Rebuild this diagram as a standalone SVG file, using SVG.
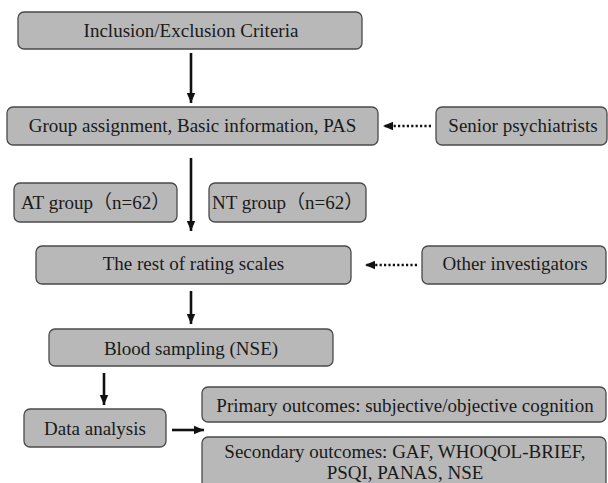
<svg xmlns="http://www.w3.org/2000/svg" width="608" height="483" viewBox="0 0 608 483">
<defs>
<marker id="ah" markerUnits="userSpaceOnUse" markerWidth="10" markerHeight="10" viewBox="0 0 10 10" refX="10" refY="5" orient="auto">
<path d="M0,0.8 L10,5 L0,9.2 Z" fill="#111"/>
</marker>
<style>
.box{fill:#b8b8b8;stroke:#4a4a4a;stroke-width:1.3}
.t{font-family:"Liberation Serif","Times New Roman","Noto Sans CJK SC",serif;font-size:19px;fill:#1a1a1a}
.m{text-anchor:middle}
.s{stroke:#111;stroke-width:2.6;fill:none}
.d{stroke:#111;stroke-width:2.6;fill:none;stroke-dasharray:2.2 2.2}
</style>
</defs>
<rect width="608" height="483" fill="#fff"/>
<g id="connectors">
<line class="s" x1="191" y1="53" x2="191" y2="103" marker-end="url(#ah)"/>
<line class="s" x1="191" y1="158" x2="191" y2="231" marker-end="url(#ah)"/>
<line class="s" x1="191" y1="291" x2="191" y2="324" marker-end="url(#ah)"/>
<line class="s" x1="104" y1="373" x2="104" y2="405" marker-end="url(#ah)"/>
<line class="s" x1="172" y1="430" x2="204" y2="430" marker-end="url(#ah)"/>
<line class="d" x1="431" y1="126" x2="383" y2="126" marker-end="url(#ah)"/>
<line class="d" x1="417" y1="265" x2="365" y2="265" marker-end="url(#ah)"/>
</g>
<g id="n1"><rect class="box" x="18" y="12" width="344" height="37" rx="6"/><text class="t m" x="191" y="37">Inclusion/Exclusion Criteria</text></g>
<g id="n2"><rect class="box" x="7" y="107" width="371" height="38" rx="6"/><text class="t m" x="192.5" y="132">Group assignment, Basic information, PAS</text></g>
<g id="n3"><rect class="box" x="436" y="107" width="171" height="38" rx="6"/><text class="t m" x="523" y="132">Senior psychiatrists</text></g>
<g id="n4"><rect class="box" x="14" y="183" width="163" height="39" rx="6"/><text class="t" x="21" y="209">AT group（n=62）</text></g>
<g id="n5"><rect class="box" x="209" y="183" width="157" height="39" rx="6"/><text class="t" x="212" y="209">NT group（n=62）</text></g>
<g id="n6"><rect class="box" x="36" y="246" width="315" height="38" rx="6"/><text class="t m" x="193.5" y="270">The rest of rating scales</text></g>
<g id="n7"><rect class="box" x="422" y="246" width="184" height="38" rx="6"/><text class="t m" x="515" y="270">Other investigators</text></g>
<g id="n8"><rect class="box" x="49" y="329" width="284" height="37" rx="6"/><text class="t m" x="191" y="355">Blood sampling (NSE)</text></g>
<g id="n9"><rect class="box" x="24" y="409" width="142" height="38" rx="6"/><text class="t m" x="95" y="435">Data analysis</text></g>
<g id="n10"><rect class="box" x="202" y="387" width="404" height="35" rx="6"/><text class="t m" x="405" y="412">Primary outcomes: subjective/objective cognition</text></g>
<g id="n11"><rect class="box" x="202" y="437" width="404" height="52" rx="6"/><text class="t m" x="405" y="458">Secondary outcomes: GAF, WHOQOL-BRIEF,</text><text class="t m" x="405" y="479">PSQI, PANAS, NSE</text></g>
</svg>
